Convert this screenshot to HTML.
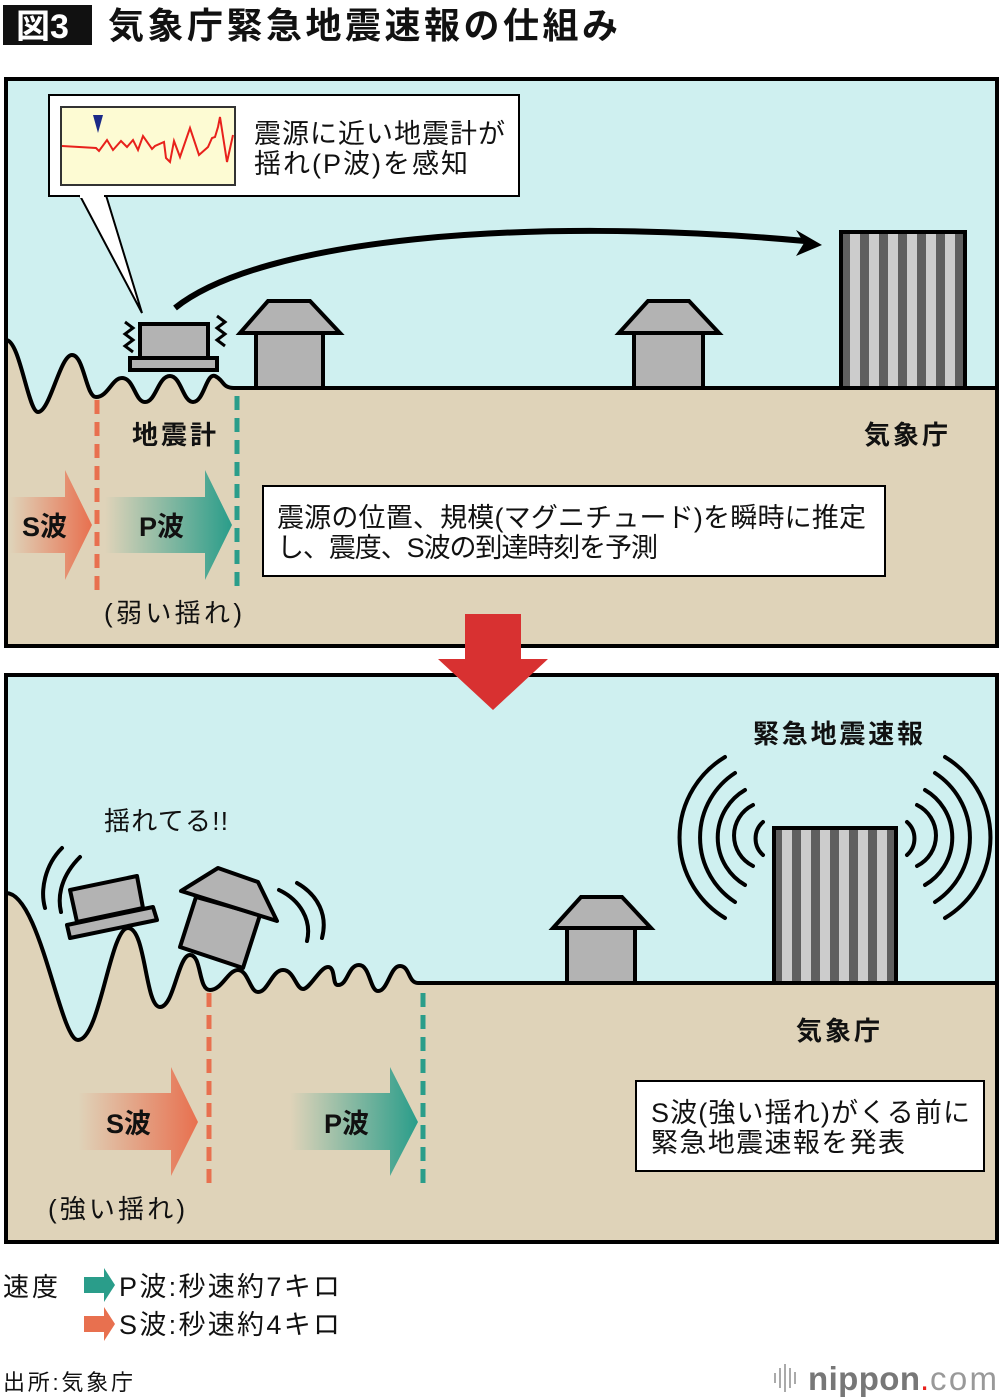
<!DOCTYPE html>
<html><head><meta charset="utf-8"><style>
html,body{margin:0;padding:0;background:#fff}
svg{display:block}
text{font-family:"Liberation Sans","Noto Sans CJK JP",sans-serif;fill:#111}
</style></head><body>
<svg width="1000" height="1400" viewBox="0 0 1000 1400" xmlns="http://www.w3.org/2000/svg">
<defs>
<linearGradient id="gs" x1="0" x2="1" y1="0" y2="0"><stop offset="0" stop-color="#e8704f" stop-opacity="0"/><stop offset="1" stop-color="#e8704f"/></linearGradient>
<linearGradient id="gp" x1="0" x2="1" y1="0" y2="0"><stop offset="0" stop-color="#2a9d8a" stop-opacity="0"/><stop offset="1" stop-color="#2a9d8a"/></linearGradient>
<pattern id="st" x="843" y="0" width="19" height="10" patternUnits="userSpaceOnUse"><rect width="19" height="10" fill="#5f5f5f"/><rect x="7" width="10" height="10" fill="#cccccc"/></pattern>
<pattern id="st2" x="775" y="0" width="19" height="10" patternUnits="userSpaceOnUse"><rect width="19" height="10" fill="#5f5f5f"/><rect x="7" width="10" height="10" fill="#cccccc"/></pattern>
</defs>
<rect x="3" y="5" width="89" height="40" fill="#111"/>
<text x="16" y="38" font-size="34" font-weight="bold" style="fill:#fff">図3</text>
<text x="108" y="38" font-size="36" font-weight="bold" textLength="510">気象庁緊急地震速報の仕組み</text>

<!-- PANEL 1 -->
<rect x="6" y="79" width="991" height="567" fill="#cff0f0"/>
<path d="M6,340 C20,340 28,412 38,412 C50,412 60,355 72,355 C84,355 86,397 96,397 C108,397 112,378 122,378 C134,378 135,402 145,402 C156,402 158,376 170,376 C181,376 183,402 193,402 C204,402 206,373 215,376 C224,380 222,388 234,388 L997,388 L997,646 L6,646 Z" fill="#dfd3b9" stroke="#000" stroke-width="4"/>
<rect x="6" y="79" width="991" height="567" fill="none" stroke="#000" stroke-width="4"/>
<line x1="97" y1="400" x2="97" y2="592" stroke="#e8704f" stroke-width="5" stroke-dasharray="14,8"/>
<line x1="237" y1="396" x2="237" y2="592" stroke="#2a9d8a" stroke-width="5" stroke-dasharray="14,8"/>
<rect x="140" y="324" width="68" height="34" fill="#b3b3b3" stroke="#000" stroke-width="4"/>
<rect x="130" y="358" width="87" height="12" fill="#b3b3b3" stroke="#000" stroke-width="4"/>
<path d="M125,322 l8,6 l-8,6 l8,6 l-8,6 l8,6" fill="none" stroke="#000" stroke-width="3"/>
<path d="M217,316 l8,6 l-8,6 l8,6 l-8,6 l8,6" fill="none" stroke="#000" stroke-width="3"/>
<g stroke="#000" stroke-width="4" fill="#b3b3b3">
<rect x="256" y="333" width="67" height="55"/>
<polygon points="268,301 310,301 340,333 240,333"/>
<rect x="634" y="333" width="69" height="55"/>
<polygon points="648,301 689,301 719,333 619,333"/>
</g>
<rect x="841" y="232" width="124" height="156" fill="url(#st)" stroke="#000" stroke-width="4"/>
<path d="M175,308 C260,240 520,215 805,241" fill="none" stroke="#000" stroke-width="6"/>
<polygon points="822,245 796,230 804,243 796,256" fill="#000"/>
<polygon points="78,192 105,192 142,313" fill="#fff" stroke="#000" stroke-width="2"/>
<rect x="49" y="95" width="470" height="101" fill="#fff" stroke="#000" stroke-width="2"/>
<rect x="80" y="194" width="24" height="4" fill="#fff"/>
<rect x="61" y="107" width="174" height="78" fill="#fdfbd3" stroke="#333" stroke-width="2"/>
<polyline points="62,146 96,148 99,151 107,140 113,150 121,141 127,147 133,140 138,150 143,136 152,149 155,146 164,142 166,158 170,162 174,141 180,157 190,128 199,155 208,147 212,138 215,137 218,127 220,117 227,162 233,135" fill="none" stroke="#e8211c" stroke-width="2"/>
<polygon points="93,115 103,115 98,133" fill="#1b2a88"/>
<text x="254" y="143" font-size="27" textLength="251">震源に近い地震計が</text>
<text x="254" y="173" font-size="27" textLength="214">揺れ(P波)を感知</text>
<text x="132" y="444" font-size="26" font-weight="bold" textLength="84">地震計</text>
<text x="864" y="444" font-size="26" font-weight="bold" textLength="84">気象庁</text>
<polygon points="10,497 65,497 65,470 92,525 65,580 65,553 10,553" fill="url(#gs)"/>
<polygon points="105,497 205,497 205,470 232,525 205,580 205,553 105,553" fill="url(#gp)"/>
<text x="22" y="536" font-size="27" font-weight="bold">S波</text>
<text x="139" y="536" font-size="27" font-weight="bold">P波</text>
<text x="104" y="622" font-size="26" textLength="138">(弱い揺れ)</text>
<rect x="263" y="486" width="622" height="90" fill="#fff" stroke="#000" stroke-width="2"/>
<text x="277" y="527" font-size="27" textLength="589">震源の位置、規模(マグニチュード)を瞬時に推定</text>
<text x="277" y="557" font-size="27" textLength="381">し、震度、S波の到達時刻を予測</text>

<!-- PANEL 2 -->
<rect x="6" y="675" width="991" height="567" fill="#cff0f0"/>
<path d="M6,893 C40,893 60,1040 78,1040 C100,1040 110,928 128,928 C146,928 145,1007 160,1007 C174,1007 178,955 190,955 C202,955 198,990 210,990 C222,990 228,970 238,970 C248,970 250,992 258,992 C268,992 272,970 283,970 C294,970 296,989 303,989 C310,989 320,967 328,967 C336,967 332,986 338,985 C348,985 348,965 359,965 C370,965 370,991 378,991 C388,991 390,966 400,966 C410,966 408,983 418,983 L997,983 L997,1242 L6,1242 Z" fill="#dfd3b9" stroke="#000" stroke-width="4"/>
<rect x="6" y="675" width="991" height="567" fill="none" stroke="#000" stroke-width="4"/>
<line x1="209" y1="993" x2="209" y2="1188" stroke="#e8704f" stroke-width="5" stroke-dasharray="14,8"/>
<line x1="423" y1="993" x2="423" y2="1188" stroke="#2a9d8a" stroke-width="5" stroke-dasharray="14,8"/>
<g stroke="#000" stroke-width="4" fill="#b3b3b3" stroke-linejoin="round">
<polygon points="70,890 137,876 143,908 77,922"/>
<polygon points="67,925 153,907 157,920 70,938"/>
<polygon points="180,947 196,897 260,915 243,968"/>
<polygon points="181,891 218,868 258,882 277,921"/>
</g>
<g fill="none" stroke="#000" stroke-width="4" stroke-linecap="round">
<path d="M62,848 C45,865 40,890 45,908"/>
<path d="M80,857 C62,875 57,895 61,912"/>
<path d="M279,890 C300,900 312,920 307,941"/>
<path d="M297,883 C318,895 328,915 322,938"/>
</g>
<text x="104" y="830" font-size="26" textLength="124">揺れてる!!</text>
<g stroke="#000" stroke-width="4" fill="#b3b3b3">
<rect x="567" y="928" width="68" height="55"/>
<polygon points="581,897 622,897 651,928 553,928"/>
</g>
<rect x="774" y="828" width="122" height="155" fill="url(#st2)" stroke="#000" stroke-width="4"/>
<g fill="none" stroke="#000" stroke-width="4" stroke-linecap="round">
<path d="M725,757 A94,94 0 0 0 725,918"/>
<path d="M735,773 A77,77 0 0 0 735,902"/>
<path d="M745,790 A55,55 0 0 0 745,885"/>
<path d="M753,805 A34,34 0 0 0 753,866"/>
<path d="M763,822 A22,22 0 0 0 763,855"/>
<path d="M945,757 A94,94 0 0 1 945,918"/>
<path d="M935,773 A77,77 0 0 1 935,902"/>
<path d="M925,790 A55,55 0 0 1 925,885"/>
<path d="M917,805 A34,34 0 0 1 917,866"/>
<path d="M907,822 A22,22 0 0 1 907,855"/>
</g>
<text x="753" y="743" font-size="26" font-weight="bold" textLength="170">緊急地震速報</text>
<text x="796" y="1040" font-size="26" font-weight="bold" textLength="84">気象庁</text>
<polygon points="78,1093 171,1093 171,1067 198,1122 171,1176 171,1150 78,1150" fill="url(#gs)"/>
<polygon points="290,1093 390,1093 390,1067 418,1122 390,1176 390,1150 290,1150" fill="url(#gp)"/>
<text x="106" y="1133" font-size="27" font-weight="bold">S波</text>
<text x="324" y="1133" font-size="27" font-weight="bold">P波</text>
<text x="48" y="1218" font-size="26" textLength="137">(強い揺れ)</text>
<rect x="636" y="1081" width="348" height="90" fill="#fff" stroke="#000" stroke-width="2"/>
<text x="651" y="1122" font-size="27" textLength="319">S波(強い揺れ)がくる前に</text>
<text x="651" y="1152" font-size="27" textLength="254">緊急地震速報を発表</text>

<polygon points="465,614 521,614 521,659 548,659 493,710 438,659 465,659" fill="#d83131"/>

<text x="3" y="1296" font-size="26" textLength="55">速度</text>
<polygon points="84,1277 104,1277 104,1268 115,1285 104,1302 104,1293 84,1293" fill="#2a9d8a"/>
<text x="119" y="1296" font-size="27" textLength="221">P波:秒速約7キロ</text>
<polygon points="84,1316 104,1316 104,1307 115,1324 104,1341 104,1332 84,1332" fill="#e8704f"/>
<text x="119" y="1334" font-size="27" textLength="221">S波:秒速約4キロ</text>
<text x="3" y="1390" font-size="22" textLength="130">出所:気象庁</text>
<g fill="#aaa"><rect x="774" y="1373" width="2" height="10"/><rect x="779" y="1368" width="2" height="20"/><rect x="784" y="1364" width="2" height="28"/><rect x="789" y="1368" width="2" height="20"/><rect x="794" y="1372" width="2" height="12"/></g>
<text x="808" y="1390" font-size="33" font-weight="bold" textLength="112" style="fill:#777">nippon</text>
<text x="920" y="1390" font-size="33" style="fill:#e8211c">.</text>
<text x="930" y="1390" font-size="33" textLength="67" style="fill:#999">com</text>
</svg>
</body></html>
